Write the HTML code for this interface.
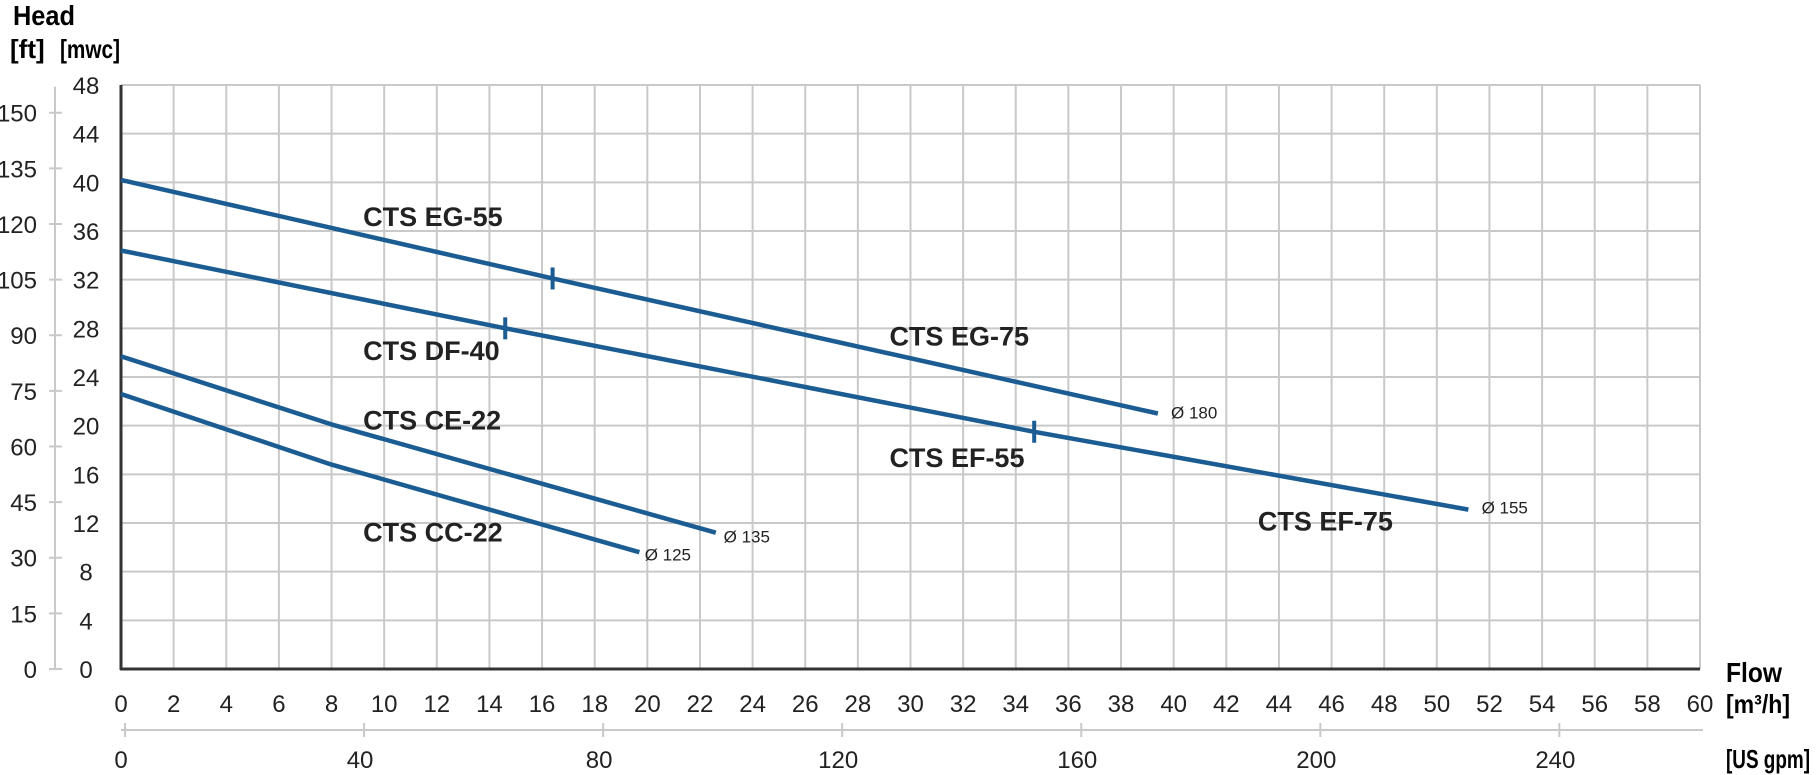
<!DOCTYPE html>
<html><head><meta charset="utf-8"><style>
html,body{margin:0;padding:0;background:#fff;}
svg{display:block;font-family:"Liberation Sans Narrow","Liberation Sans",sans-serif;}
</style></head><body>
<svg id="chart" width="1818" height="775" viewBox="0 0 1818 775" xmlns="http://www.w3.org/2000/svg">
<g id="grid"></g>
<g id="axes"></g>
<g id="series"></g>
<g id="labels"></g>
<text x="13" y="25" font-size="28" font-weight="bold" textLength="62" lengthAdjust="spacingAndGlyphs">Head</text>
<text x="10" y="58" font-size="26" font-weight="bold">[ft]</text>
<text x="60" y="58" font-size="26" font-weight="bold" textLength="60" lengthAdjust="spacingAndGlyphs">[mwc]</text>
<text x="1726" y="682" font-size="28" font-weight="bold" textLength="56" lengthAdjust="spacingAndGlyphs">Flow</text>
<text x="1726" y="713" font-size="26" font-weight="bold" textLength="64" lengthAdjust="spacingAndGlyphs">[m³/h]</text>
<text x="1726" y="768" font-size="26" font-weight="bold" textLength="84" lengthAdjust="spacingAndGlyphs">[US gpm]</text>
</svg>
<script>
const xTicks=[0,2,4,6,8,10,12,14,16,18,20,22,24,26,28,30,32,34,36,38,40,42,44,46,48,50,52,54,56,58,60];
const yTicks=[0,4,8,12,16,20,24,28,32,36,40,44,48];
const ftTicks=[0,15,30,45,60,75,90,105,120,135,150];
const gpmTicks=[0,40,80,120,160,200,240];
const egFlow=[0,16.4,39.4], egHead=[40.2,32.1,21.0];
const efFlow=[0,14.6,34.7,51.2], efHead=[34.4,28.0,19.5,13.1];
const ceFlow=[0,8,22.6], ceHead=[25.7,20.1,11.2];
const ccFlow=[0,8,19.7], ccHead=[22.6,16.8,9.6];
const seriesNames=["eg","ef","ce","cc"];
const markerFlow=[16.4,14.6,34.7], markerHead=[32.1,28.0,19.5];
const modelLabels=["CTS EG-55","CTS EG-75","CTS DF-40","CTS EF-55","CTS CE-22","CTS EF-75","CTS CC-22"];
const modelLabelFlow=[9.2,29.2,9.2,29.2,9.2,43.2,9.2];
const modelLabelHead=[36.4,26.6,25.4,16.6,19.7,11.4,10.5];
const diaLabels=["Ø 180","Ø 155","Ø 135","Ø 125"];
const diaFlow=[39.9,51.7,22.9,19.9];
const diaHead=[20.6,12.8,10.4,8.9];

const X0=121,X1=1700,Y0=669,Y1=85;
const sx=v=>X0+(v-0)/(60-0)*(X1-X0);
const sy=v=>Y0-(v-0)/(48-0)*(Y0-Y1);
const gpmX=g=>sx(g*0.2271);
const ftY=f=>sy(f*0.3048);
const NS="http://www.w3.org/2000/svg";
function mk(parent,tag,attrs,txt){const e=document.createElementNS(NS,tag);for(const k in attrs)e.setAttribute(k,attrs[k]);if(txt!==undefined)e.textContent=txt;parent.appendChild(e);return e;}
const grid=document.getElementById('grid'),axes=document.getElementById('axes'),ser=document.getElementById('series'),lab=document.getElementById('labels');

xTicks.forEach(v=>{
 if(v>0){const l=mk(grid,'line',{x1:sx(v),x2:sx(v),y1:Y1,y2:Y0,stroke:'#c9c9c9','stroke-width':2});
 
 }
 const t=mk(axes,'text',{x:sx(v),y:712,'font-size':24,'text-anchor':'middle',fill:'#222'},v);
 
 
});
yTicks.forEach(v=>{
 if(v>0){const l=mk(grid,'line',{x1:X0,x2:X1,y1:sy(v),y2:sy(v),stroke:'#c9c9c9','stroke-width':2});
 
 }
 const t=mk(axes,'text',{x:86,y:sy(v)+9,'font-size':24,'text-anchor':'middle',fill:'#222'},v);
 
 
});
let a=mk(axes,'line',{x1:X0,x2:X0,y1:Y1,y2:Y0+1,stroke:'#333','stroke-width':3});


a=mk(axes,'line',{x1:X0-1,x2:X1,y1:Y0,y2:Y0,stroke:'#333','stroke-width':3});


a=mk(axes,'line',{x1:55,x2:55,y1:ftY(157),y2:ftY(0),stroke:'#c9c9c9','stroke-width':2});


ftTicks.forEach(v=>{
 const l=mk(axes,'line',{x1:49,x2:62,y1:ftY(v),y2:ftY(v),stroke:'#c9c9c9','stroke-width':2});
 
 
 const t=mk(axes,'text',{x:37,y:ftY(v)+9,'font-size':24,'text-anchor':'end',fill:'#222'},v);
 
 
});
a=mk(axes,'line',{x1:gpmX(0),x2:X1+3,y1:730,y2:730,stroke:'#c9c9c9','stroke-width':2});


gpmTicks.forEach(v=>{
 const l=mk(axes,'line',{x1:gpmX(v)+4,x2:gpmX(v)+4,y1:723,y2:737,stroke:'#c9c9c9','stroke-width':2});
 
 
 const t=mk(axes,'text',{x:gpmX(v),y:768,'font-size':24,'text-anchor':'middle',fill:'#222'},v);
 
 
});
const allFlow=[egFlow,efFlow,ceFlow,ccFlow],allHead=[egHead,efHead,ceHead,ccHead];
allFlow.forEach((f,i)=>{
 const d=f.map((x,j)=>(j?'L':'M')+sx(x).toFixed(1)+' '+sy(allHead[i][j]).toFixed(1)).join(' ');
 const p=mk(ser,'path',{d:d,fill:'none',stroke:'#1b5c93','stroke-width':4.5,'stroke-linejoin':'round'});
 
 
});
markerFlow.forEach((f,i)=>{
 const l=mk(ser,'line',{x1:sx(f),x2:sx(f),y1:sy(markerHead[i])-11,y2:sy(markerHead[i])+11,stroke:'#1b5c93','stroke-width':4});
 
 
});
modelLabels.forEach((s,i)=>{
 const t=mk(lab,'text',{x:sx(modelLabelFlow[i]),y:sy(modelLabelHead[i]),'font-size':27,'font-weight':'bold',fill:'#222'},s);
 
 
});
diaLabels.forEach((s,i)=>{
 const t=mk(lab,'text',{x:sx(diaFlow[i]),y:sy(diaHead[i]),'font-size':17,fill:'#222'},s);
 
 
});
</script>
</body></html>
